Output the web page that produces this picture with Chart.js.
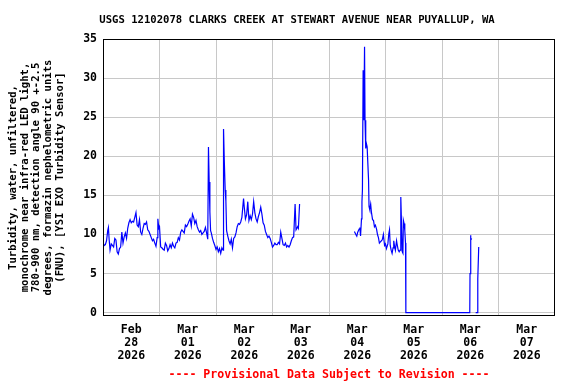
<!DOCTYPE html>
<html><head><meta charset="utf-8">
<script src="https://cdn.jsdelivr.net/npm/chart.js@4"></script>
<style>html,body{margin:0;padding:0;background:#fff}</style>
</head><body><canvas id="c" width="576" height="384"></canvas>
<script>
// Hours since 2026-02-28 00:00 (local), and turbidity in FNU (null = gap)
const hours = [
0,0.5,1,1.5,2,2.3,2.6,3,3.5,4,4.5,5,5.5,6,6.5,7,7.5,8,8.5,9,9.5,10,10.5,11,11.5,12,12.5,13,13.5,14,14.5,15,15.5,16,16.5,17,17.5,18,18.5,19,19.5,20,20.5,21,21.5,22,22.5,23,23.3,23.7,
24,24.5,25,25.5,26,26.5,27,27.5,28,28.5,29,29.5,30,30.5,31,31.5,32,32.5,33,33.5,34,34.5,35,35.5,36,36.5,37,37.5,38,38.5,39,39.5,40,40.5,41,41.5,42,42.5,43,43.5,44,44.5,44.8,45.1,45.4,45.7,
46,46.5,47,47.5,48,48.5,49,49.5,50,50.5,51,51.2,51.5,51.9,52.2,52.5,53,53.5,54,54.5,55,55.5,56,56.5,57,57.5,58,58.5,59,59.7,60,60.5,61,61.5,62,62.5,63,63.5,64,64.5,65,65.5,66,66.5,67,67.5,
68,68.5,69,69.5,70,70.5,71,71.5,72,72.5,73,73.5,74,74.5,75,75.5,76,76.5,77,77.5,78,78.5,79,79.5,80,80.5,81,81.6,82,82.7,83,83.5,
90,
106.8,107.4,107.8,108.2,108.8,109.1,109.4,109.8,110.0,110.2,110.5,110.8,111.1,111.3,111.6,111.9,112.2,112.5,112.8,113.0,113.3,113.7,114.0,114.5,114.9,115.3,115.7,116.2,116.6,117.0,117.4,117.9,
118.3,118.7,119.1,119.6,120.0,120.4,121.0,121.4,121.7,122.0,122.4,122.8,123.2,123.5,123.9,124.2,124.7,124.9,125.4,125.8,126.2,126.5,126.8,127.1,127.4,127.6,127.9,128.2,128.5,128.65,
155.8,155.9,156.1,156.3,156.6,
157.5,
158.3,159.1,159.2,159.6
];
const fnu = [
9.0,8.6,8.7,9.2,10.5,10.9,9.4,8.0,8.8,8.6,8.4,9.5,9.3,7.8,7.5,8.2,8.4,10.3,8.9,9.7,10.2,9.5,10.8,11.5,11.9,11.5,11.7,11.6,12.2,12.8,11.2,11.0,11.9,10.3,10.0,10.8,11.4,11.3,11.6,10.6,10.4,10.0,9.6,9.2,9.4,8.9,8.5,9.6,12.0,10.8,
11.0,8.4,8.3,8.1,8.0,8.9,8.6,7.9,8.2,8.7,8.3,8.9,8.5,8.3,8.9,9.0,9.6,9.3,10.3,10.6,10.4,10.2,11.2,11.0,11.3,11.7,12.0,11.1,12.6,12.2,11.4,11.8,11.0,10.6,10.3,10.5,10.0,10.2,10.4,10.9,10.2,9.4,21.2,16.7,12.9,10.5,
10.2,9.5,9.0,8.6,8.1,8.4,7.8,8.2,7.6,8.3,8.0,23.5,19.7,15.7,14.3,10.5,9.8,9.2,8.8,9.4,8.3,9.5,9.7,10.2,11.0,11.4,11.3,11.6,12.2,14.6,13.5,12.0,12.5,14.2,11.8,12.4,11.9,12.6,14.2,12.8,12.0,11.6,12.3,12.8,13.5,12.6,
11.5,11.2,10.4,10.0,9.6,9.8,9.5,9.0,8.4,8.6,8.9,8.7,8.7,9.0,8.8,10.3,9.5,8.7,8.6,8.9,8.4,8.6,8.4,8.7,9.2,9.6,9.7,13.9,10.6,11.0,10.8,13.9,
null,
10.4,10.0,9.8,10.3,10.7,10.9,9.8,12.0,14.2,15.7,31.0,24.6,34.0,24.6,21.0,21.6,21.2,21.2,17.0,13.6,13.2,13.9,12.9,11.9,11.8,11.0,11.2,10.7,10.0,9.6,8.9,9.1,
9.2,9.4,10.0,8.6,8.8,8.2,8.8,10.1,10.6,8.6,8.0,7.6,8.3,9.2,8.4,8.0,9.2,8.8,8.0,7.8,8.0,14.8,11.4,7.8,7.6,11.8,11.4,10.5,8.9,0,
0,5.0,9.9,9.3,9.5,
null,
0,0,4.3,8.4
];
const yTicks = [0,5,10,15,20,25,30,35];
const dayLineHours = [24,48,72,96,120,144,168];
const dateLabelHours = [12,36,60,84,108,132,156,180];
const dateLabels = [['Feb','28','2026'],['Mar','01','2026'],['Mar','02','2026'],['Mar','03','2026'],['Mar','04','2026'],['Mar','05','2026'],['Mar','06','2026'],['Mar','07','2026']];
const titleText = 'USGS 12102078 CLARKS CREEK AT STEWART AVENUE NEAR PUYALLUP, WA';
const yTitle = ['Turbidity, water, unfiltered,','monochrome near infra-red LED light,','780-900 nm, detection angle 90 +-2.5','degrees, formazin nephelometric units','(FNU), [YSI EXO Turbidity Sensor]'];
const footText = '---- Provisional Data Subject to Revision ----';

const MONO = "'DejaVu Sans Mono', 'Liberation Mono', monospace";
const points = hours.map((h, i) => ({x: h, y: fnu[i]}));
const xTickHours = dayLineHours.concat(dateLabelHours).sort((a, b) => a - b);

const frame = {
  id: 'frame',
  afterDraw(chart) {
    const {ctx, chartArea: a} = chart;
    ctx.save();
    ctx.strokeStyle = '#000';
    ctx.lineWidth = 1;
    const l = Math.round(a.left) + 0.5, t = Math.round(a.top) + 0.5;
    const r = Math.round(a.right) - 0.5, b = Math.round(a.bottom) - 0.5;
    ctx.strokeRect(l, t, r - l, b - t);
    ctx.restore();
  }
};

new Chart(document.getElementById('c'), {
  type: 'line',
  data: {datasets: [{data: points, borderColor: '#0000ff', borderWidth: 1.2, pointRadius: 0, tension: 0, spanGaps: false, fill: false}]},
  options: {
    responsive: false, animation: false, events: [],
    layout: {padding: {left: 39, right: 21, top: 0, bottom: 0}},
    plugins: {
      legend: {display: false}, tooltip: {enabled: false},
      title: {display: true, text: titleText, color: '#000',
        font: {family: MONO, size: 10.6, weight: 'bold', lineHeight: '12px'}, padding: {top: 14, bottom: 13}}
    },
    scales: {
      x: {
        type: 'linear', min: 0, max: 192,
        afterBuildTicks: s => { s.ticks = xTickHours.map(v => ({value: v})); },
        afterFit: s => { s.height = 68; },
        grid: {drawTicks: false, lineWidth: 1, color: c => dayLineHours.includes(c.tick && c.tick.value) ? '#c8c8c8' : 'rgba(0,0,0,0)'},
        border: {display: false},
        ticks: {autoSkip: false, maxRotation: 0, minRotation: 0, padding: 7.5, color: '#000',
          font: {family: MONO, size: 11.5, weight: 'bold', lineHeight: '13px'},
          callback: v => { const i = dateLabelHours.indexOf(v); return i >= 0 ? dateLabels[i] : ''; }},
        title: {display: true, text: footText, color: '#ff0000',
          font: {family: MONO, size: 11.6, weight: 'bold', lineHeight: '13px'}, padding: {top: 0, bottom: 2.5}}
      },
      y: {
        min: -0.42, max: 35,
        afterBuildTicks: s => { s.ticks = yTicks.map(v => ({value: v})); },
        afterFit: s => { s.width = 64; },
        grid: {drawTicks: false, color: '#c8c8c8', lineWidth: 1},
        border: {display: false},
        ticks: {padding: 6, color: '#000', font: {family: MONO, size: 11.5, weight: 'bold'}},
        title: {display: true, text: yTitle, color: '#000',
          font: {family: MONO, size: 10.6, weight: 'bold', lineHeight: '11.7px'}, padding: {top: -31.55, bottom: 0}}
      }
    }
  },
  plugins: [frame]
});
</script></body></html>
